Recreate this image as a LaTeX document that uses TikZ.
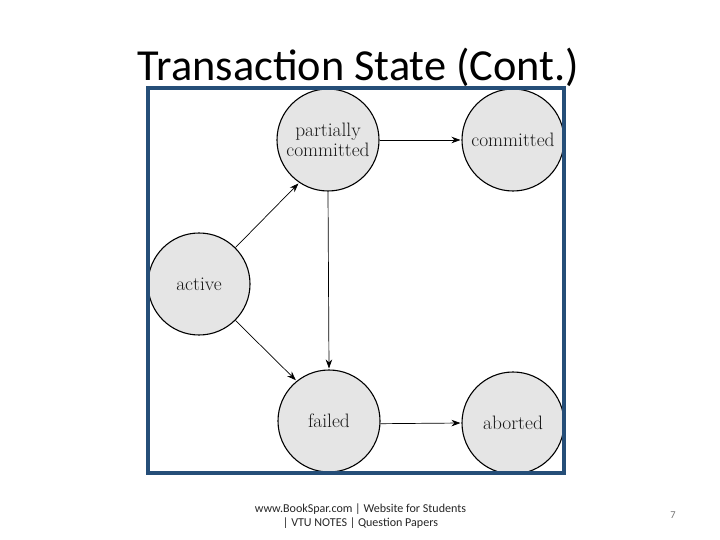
\documentclass[tikz,border=0pt]{standalone}
\usepackage{fontspec}
\newfontfamily\slidefont{Carlito}
\usepackage{tikz}
\usetikzlibrary{arrows.meta,positioning}
\definecolor{framecolor}{HTML}{254E78}

\begin{document}
\begin{tikzpicture}[x=1bp,y=1bp,shorten >=1pt,on grid,>={Stealth[length=9bp,width=6.5bp]}]
       \tikzset{statenode/.style={circle,draw=black,line width=1.1pt,fill=black!10,minimum size=102bp,inner sep=0pt,align=center,font=\fontsize{19.5}{20}\selectfont,text=black!90}}
       \useasboundingbox (0,0) rectangle (720,-540);

       \node[font=\slidefont\fontsize{44.5}{46}\selectfont] (title) at (358.5,-67) {Transaction State (Cont.)};

       \node[statenode] (active) at (199,-284) {active};
       \node[statenode] (partially) [above right=144bp and 129bp of active] {partially\\committed};
       \node[statenode] (committed) [right=185bp of partially] {committed};
       \node[statenode] (failed) [below=281bp of partially,xshift=1bp] {failed};
       \node[statenode] (aborted) [right=184bp of failed,yshift=-2bp] {aborted};

       \path[->,line width=0.7pt]
       (active.45) edge (partially.236)
       (active.-45) edge (failed.129)
       (partially.east) edge (committed.west)
       (partially.south) edge (failed.north)
       (failed.-3) edge (aborted.west);

       \node[draw=framecolor,line width=4bp,minimum width=416bp,minimum height=385bp,inner sep=0pt] (frame) at (356,-280.5) {};

       \node[font=\slidefont\fontsize{12.1}{14}\selectfont,align=center,text=black!85] (footer) at (360.5,-516) {www.BookSpar.com | Website for Students\\| VTU NOTES | Question Papers};
       \node[font=\slidefont\fontsize{10.5}{11}\selectfont,text=black!55] (pagenum) at (673,-515) {7};
     \end{tikzpicture}
\end{document}
